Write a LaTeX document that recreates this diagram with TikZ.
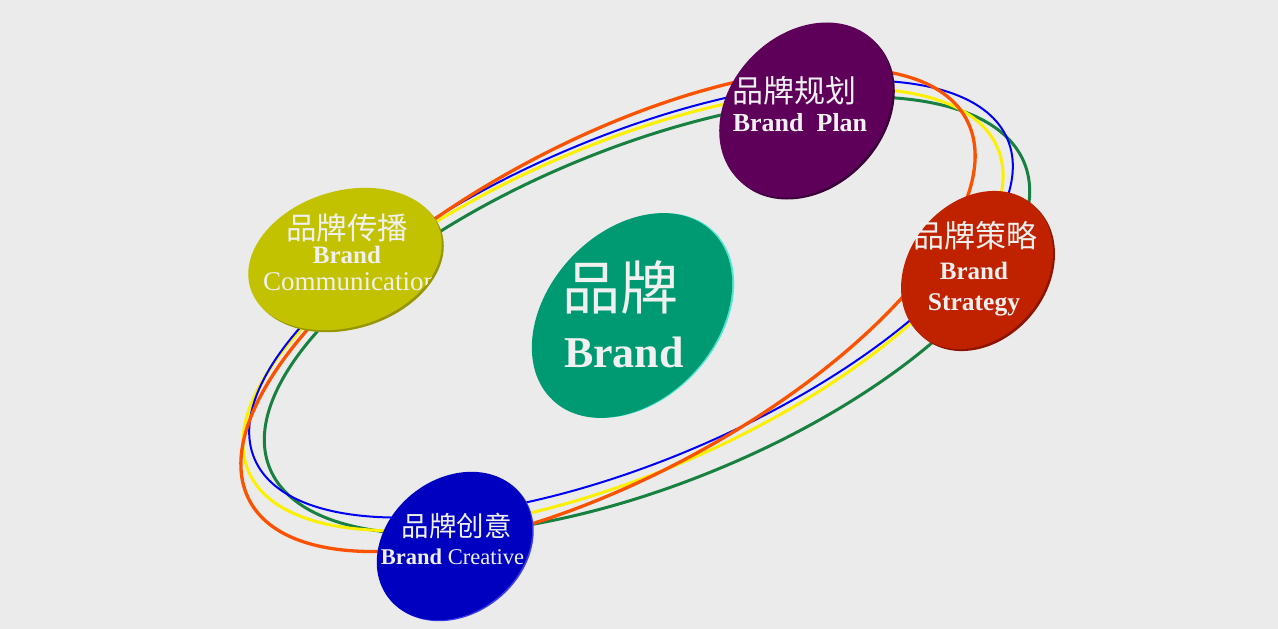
\documentclass[tikz,border=0pt]{standalone}
\usepackage{fontspec}
\setmainfont{Liberation Serif}
\newfontfamily\cjk{Noto Sans CJK SC}
\usetikzlibrary{shapes.geometric}
\definecolor{bg}{RGB}{235,235,235}
\definecolor{ringorange}{RGB}{250,82,0}
\definecolor{ringblue}{RGB}{0,0,250}
\definecolor{ringyellow}{RGB}{250,240,0}
\definecolor{ringgreen}{RGB}{24,128,64}
\definecolor{planc}{RGB}{94,0,90}
\definecolor{planrim}{RGB}{60,0,58}
\definecolor{stratc}{RGB}{192,34,0}
\definecolor{stratrim}{RGB}{140,20,0}
\definecolor{commc}{RGB}{194,194,0}
\definecolor{commrim}{RGB}{150,150,0}
\definecolor{creac}{RGB}{0,0,192}
\definecolor{crearim}{RGB}{60,60,230}
\definecolor{brandc}{RGB}{0,154,114}
\definecolor{brandrim}{RGB}{80,230,210}
\definecolor{txt}{RGB}{240,240,240}
\tikzset{
  ring/.style={line width=#1},
  blob/.style={ellipse, inner sep=0pt, outer sep=0pt, draw=none},
  lbl/.style={text=txt, inner sep=0pt, outer sep=0pt},
}
\begin{document}
\begin{tikzpicture}[x=1pt,y=-1pt]
\fill[bg] (0,0) rectangle (1278,629);
\useasboundingbox (0,0) rectangle (1278,629);
% rings
\draw[ring=3pt, ringgreen, rotate around={22:(647,315.5)}] (647,315.5) ellipse [x radius=407pt, y radius=169pt];
\draw[ring=3pt, ringyellow, rotate around={23.4:(623,309.5)}] (623,309.5) ellipse [x radius=408pt, y radius=164pt];
\draw[ring=2pt, ringblue, rotate around={23:(631,299)}] (631,299) ellipse [x radius=409pt, y radius=162pt];
\draw[ring=3.3pt, ringorange, rotate around={28:(608,310)}] (608,310) ellipse [x radius=406pt, y radius=168pt];
% blobs: rims
\node[blob, fill=planrim, minimum width=194pt, minimum height=152pt, rotate=46] (planrimnode) at (808,112) {};
\node[blob, fill=stratrim, minimum width=172pt, minimum height=136pt, rotate=50] (stratrimnode) at (979,272) {};
\node[blob, fill=commrim, minimum width=198pt, minimum height=136pt, rotate=17] (commrimnode) at (347,261) {};
\node[blob, fill=crearim, minimum width=168pt, minimum height=134pt, rotate=39] (crearimnode) at (456,547) {};
\node[blob, fill=brandrim, minimum width=232pt, minimum height=168pt, rotate=47] (brandrimnode) at (634,315.5) {};
% blobs
\node[blob, fill=planc, minimum width=194pt, minimum height=152pt, rotate=46] (plan) at (806,110) {};
\node[blob, fill=stratc, minimum width=172pt, minimum height=136pt, rotate=50] (strat) at (977,270) {};
\node[blob, fill=commc, minimum width=198pt, minimum height=136pt, rotate=17] (comm) at (345,259) {};
\node[blob, fill=creac, minimum width=168pt, minimum height=134pt, rotate=39] (crea) at (454.5,546) {};
\node[blob, fill=brandc, minimum width=232pt, minimum height=168pt, rotate=47] (brand) at (632,315.5) {};
% labels
\node[lbl] (plancn) at (794,91) {\cjk\fontsize{31}{31}\selectfont 品牌规划};
\node[lbl, anchor=base] (planen) at (800,131) {\fontsize{26}{26}\selectfont\bfseries Brand\ \ Plan};
\node[lbl] (stratcn) at (975,235.5) {\cjk\fontsize{31}{31}\selectfont 品牌策略};
\node[lbl, anchor=base] (straten1) at (974,279) {\fontsize{25}{25}\selectfont\bfseries Brand};
\node[lbl, anchor=base] (straten2) at (974,310) {\fontsize{25.5}{25.5}\selectfont\bfseries Strategy};
\node[lbl] (commcn) at (347,228) {\cjk\fontsize{30.5}{30.5}\selectfont 品牌传播};
\node[lbl, anchor=base] (commen1) at (347,263) {\fontsize{25}{25}\selectfont\bfseries Brand};
\begin{scope}
\clip[rotate around={17:(345,259)}] (345,259) ellipse [x radius=99pt, y radius=68pt];
\node[lbl, anchor=base west] (commen2) at (263,290) {\fontsize{27}{27}\selectfont Communication};
\end{scope}
\node[lbl] (creacn) at (456.5,526) {\cjk\fontsize{27.5}{27.5}\selectfont 品牌创意};
\node[lbl, anchor=base] (creaen) at (452.5,564) {\fontsize{22.5}{22.5}\selectfont\textbf{Brand} Creative};
\node[lbl] (brandcn) at (620,287.5) {\cjk\fontsize{58}{58}\selectfont 品牌};
\node[lbl, anchor=base] (branden) at (624,367) {\fontsize{44}{44}\selectfont\bfseries Brand};
\end{tikzpicture}
\end{document}
